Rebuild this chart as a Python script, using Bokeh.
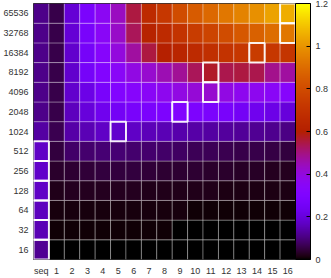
import math
from bokeh.plotting import figure
from bokeh.models import (ColumnDataSource, LinearColorMapper, ColorBar,
                          FixedTicker, PrintfTickFormatter)
from bokeh.embed import file_html
from bokeh.resources import INLINE

# ---- data -------------------------------------------------------------
x_labels = ["seq"] + [str(i) for i in range(1, 17)]
y_labels = ["16", "32", "64", "128", "256", "512", "1024", "2048",
            "4096", "8192", "16384", "32768", "65536"]

row_65536 = [0.11, 0.06, 0.19, 0.28, 0.36, 0.44, 0.55, 0.66, 0.72, 0.80, 0.85, 0.89, 0.93, 0.96, 0.99, 1.03, 1.05]
row_32768 = [0.11, 0.06, 0.19, 0.27, 0.35, 0.43, 0.53, 0.62, 0.66, 0.70, 0.74, 0.77, 0.80, 0.84, 0.87, 0.90, 0.93]
row_16384 = [0.11, 0.06, 0.18, 0.26, 0.33, 0.40, 0.47, 0.55, 0.60, 0.63, 0.66, 0.68, 0.70, 0.72, 0.74, 0.72, 0.71]
row_8192 = [0.11, 0.06, 0.18, 0.26, 0.31, 0.35, 0.39, 0.42, 0.45, 0.48, 0.53, 0.57, 0.54, 0.55, 0.54, 0.49, 0.47]
row_4096 = [0.11, 0.06, 0.18, 0.22, 0.27, 0.31, 0.33, 0.35, 0.37, 0.39, 0.41, 0.42, 0.39, 0.37, 0.37, 0.35, 0.33]
row_2048 = [0.11, 0.06, 0.16, 0.20, 0.23, 0.25, 0.27, 0.28, 0.29, 0.31, 0.29, 0.28, 0.27, 0.25, 0.23, 0.22, 0.20]
row_1024 = [0.135, 0.065, 0.14, 0.15, 0.17, 0.18, 0.17, 0.155, 0.15, 0.145, 0.14, 0.135, 0.13, 0.125, 0.12, 0.115, 0.105]
row_512 = [0.17, 0.05, 0.08, 0.085, 0.09, 0.09, 0.085, 0.085, 0.08, 0.075, 0.07, 0.07, 0.065, 0.06, 0.058, 0.055, 0.05]
row_256 = [0.175, 0.035, 0.04, 0.045, 0.048, 0.048, 0.047, 0.045, 0.042, 0.04, 0.038, 0.036, 0.034, 0.032, 0.03, 0.028, 0.026]
row_128 = [0.17, 0.022, 0.025, 0.026, 0.026, 0.025, 0.024, 0.023, 0.022, 0.021, 0.02, 0.019, 0.018, 0.017, 0.016, 0.015, 0.015]
row_64 = [0.16, 0.012, 0.013, 0.013, 0.012, 0.012, 0.011, 0.011, 0.010, 0.010, 0.009, 0.009, 0.009, 0.008, 0.008, 0.007, 0.007]
row_32 = [0.15, 0.006, 0.0065, 0.006, 0.006, 0.0055, 0.0055, 0.005, 0.005, 0.0045, 0.0045, 0.004, 0.004, 0.004, 0.0035, 0.0035, 0.003]
row_16 = [0.12, 0.003, 0.003, 0.003, 0.0028, 0.0027, 0.0026, 0.0025, 0.0024, 0.0022, 0.002, 0.0019, 0.0018, 0.0017, 0.0016, 0.0015, 0.0014]

cb_ticks = [0, 0.2, 0.4, 0.6, 0.8, 1.0, 1.2]

rows = {"16": row_16, "32": row_32, "64": row_64, "128": row_128,
        "256": row_256, "512": row_512, "1024": row_1024, "2048": row_2048,
        "4096": row_4096, "8192": row_8192, "16384": row_16384,
        "32768": row_32768, "65536": row_65536}

# ---- gnuplot default palette (rgbformulae 7,5,15) --------------------
def gp_color(t):
    r = math.sqrt(t)
    g = t ** 3
    b = max(0.0, min(1.0, math.sin(2 * math.pi * t)))
    return "#%02x%02x%02x" % (round(r * 255), round(g * 255), round(b * 255))

palette = [gp_color(i / 255) for i in range(256)]
mapper = LinearColorMapper(palette=palette, low=0, high=1.2)

xs, ys, vs = [], [], []
bx, by = [], []
for yl in y_labels:
    vals = rows[yl]
    for xl, v in zip(x_labels, vals):
        xs.append(xl); ys.append(yl); vs.append(v)
    m = max(range(len(vals)), key=lambda i: vals[i])
    bx.append(x_labels[m]); by.append(yl)

src = ColumnDataSource(dict(x=xs, y=ys, v=vs))
box_src = ColumnDataSource(dict(x=bx, y=by))

p = figure(width=331, height=278, x_range=x_labels, y_range=y_labels,
           output_backend="svg", toolbar_location=None,
           min_border_left=32, min_border_right=0, min_border_top=3,
           min_border_bottom=19)

p.rect(x="x", y="y", width=1, height=1, source=src,
       fill_color={"field": "v", "transform": mapper},
       line_color="white", line_alpha=0.3, line_width=1)

p.rect(x="x", y="y", width=1, height=1, source=box_src,
       fill_color=None, line_color="white", line_alpha=0.9, line_width=2)

p.grid.visible = False
p.outline_line_color = "black"
p.outline_line_width = 1
for ax in (p.xaxis, p.yaxis):
    ax.axis_line_color = None
    ax.major_tick_line_color = None
    ax.minor_tick_line_color = None
    ax.major_tick_out = 0
    ax.major_tick_in = 0
    ax.minor_tick_out = 0
    ax.minor_tick_in = 0
    ax.major_label_text_font = "Liberation Sans"
    ax.major_label_text_font_size = "9px"
    ax.major_label_text_color = "#333333"
p.xaxis.major_label_standoff = 6
p.yaxis.major_label_standoff = 5

cb = ColorBar(color_mapper=mapper, width=15, padding=0, margin=5,
              ticker=FixedTicker(ticks=cb_ticks),
              formatter=PrintfTickFormatter(format="%g"),
              major_label_text_font="Liberation Sans",
              major_label_text_font_size="9px",
              major_label_text_color="#333333",
              label_standoff=5, major_tick_in=4, major_tick_out=0,
              major_tick_line_color="black",
              bar_line_color="black", bar_line_width=1)
p.add_layout(cb, "right")

open("out.html", "w").write(file_html(p, INLINE))
